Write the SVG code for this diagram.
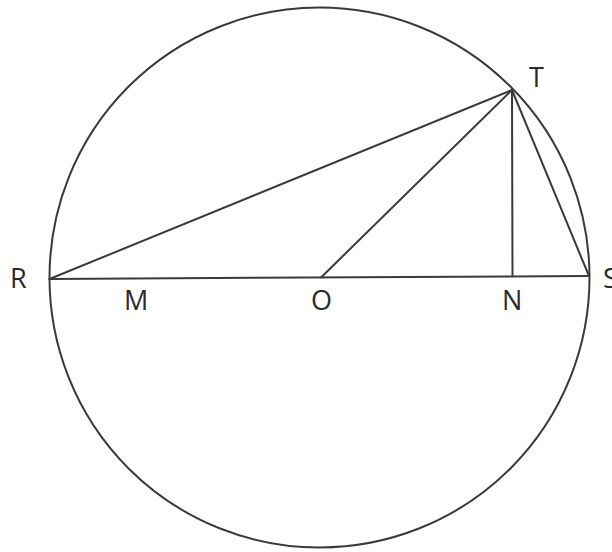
<svg xmlns="http://www.w3.org/2000/svg" width="612" height="552" viewBox="0 0 612 552">
<style>
.ln{stroke:#3a3a3a;stroke-width:2;fill:none;stroke-linecap:round}
.lb{font-family:"Open Sans","Liberation Sans",sans-serif;font-size:27px;fill:#2a2a2a}
</style>
<rect width="612" height="552" fill="#fff"/>
<g id="circle"><circle class="ln" cx="319.5" cy="277.5" r="270"/></g>
<g id="connectors">
<line class="ln" x1="49.5" y1="279" x2="589" y2="276"/>
<line class="ln" x1="49.5" y1="279" x2="512" y2="90"/>
<line class="ln" x1="321" y1="277.5" x2="512" y2="90"/>
<line class="ln" x1="512" y1="90" x2="512.5" y2="276.3"/>
<line class="ln" x1="512" y1="90" x2="589" y2="276"/>
</g>
<g id="R"><text class="lb" x="10" y="288">R</text></g>
<g id="M"><text class="lb" x="124" y="310">M</text></g>
<g id="O"><text class="lb" x="311" y="310">O</text></g>
<g id="N"><text class="lb" x="502" y="310">N</text></g>
<g id="T"><text class="lb" x="529" y="87">T</text></g>
<g id="S"><text class="lb" x="603" y="288">S</text></g>
</svg>
